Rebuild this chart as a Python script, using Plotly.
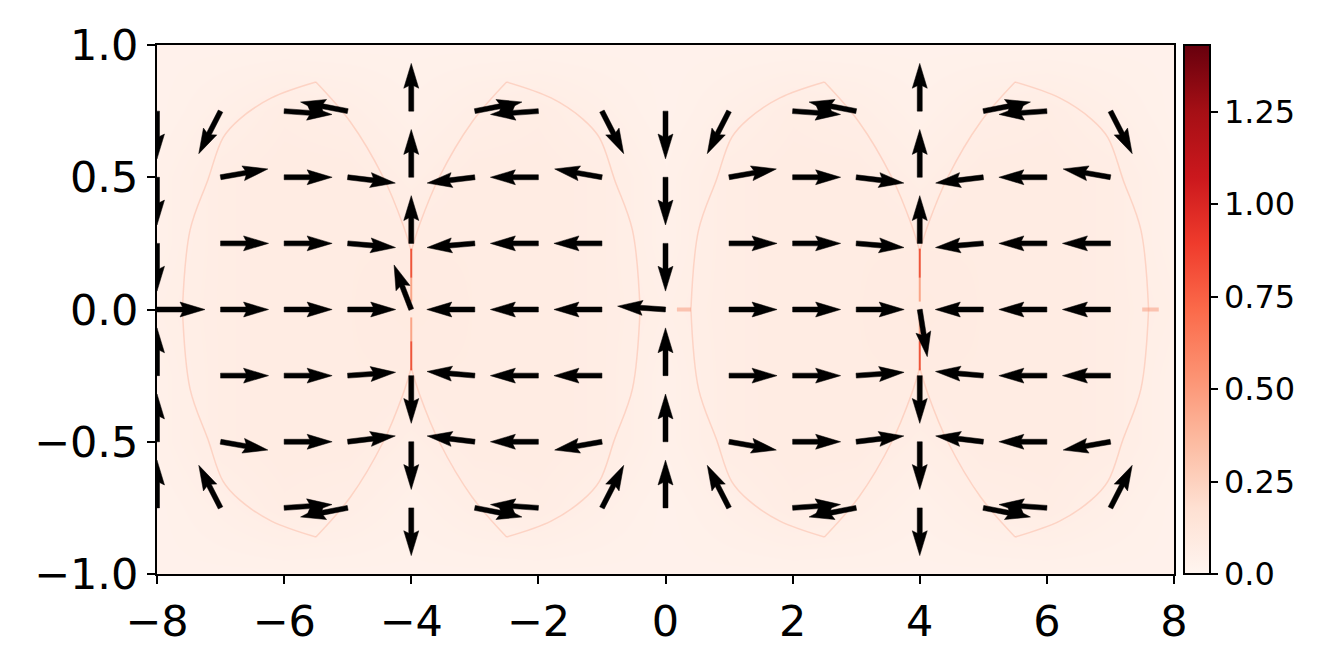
import numpy as np
import plotly.graph_objects as go

# ---- quiver grid (tails) ----
grid_x = list(range(-8, 8))
grid_y = [0.75, 0.5, 0.25, 0.0, -0.25, -0.5, -0.75]
# arrow direction in degrees (screen space, ccw from +x), one row per grid_y
angle_rows = [
    [-90, -117, -4, 169, 90, 11, 184, -63, -90, -117, -4, 169, 90, 11, 184, -63],
    [-90, 10, 0, -7, 90, 187, 180, 170, -90, 10, 0, -7, 90, 187, 180, 170],
    [-90, 0, 0, -5, 90, 185, 180, 180, -90, 0, 0, -5, 90, 185, 180, 180],
    [0, 0, 0, 0, 111, 180, 180, 180, 176, 0, 0, 0, -81, 180, 180, 180],
    [90, 0, 0, 4, -90, 175, 180, 180, 90, 0, 0, 4, -90, 175, 180, 180],
    [90, -10, 0, 7, -90, 173, 180, 190, 90, -10, 0, 7, -90, 173, 180, 190],
    [90, 117, 4, -169, -90, -11, 176, 63, 90, 117, 4, -169, -90, -11, 176, 63],
]

# ---- background magnitude field (coarse) ----
heat_x = list(range(-8, 9))
heat_y = [-1.0, -0.75, -0.5, -0.25, 0.0, 0.25, 0.5, 0.75, 1.0]
z_edge = [0.03] * 17
z_075 = [0.03, 0.05, 0.07, 0.06, 0.04, 0.06, 0.07, 0.05, 0.03, 0.05, 0.07, 0.06, 0.04, 0.06, 0.07, 0.05, 0.03]
z_050 = [0.04, 0.07, 0.08, 0.08, 0.06, 0.08, 0.08, 0.07, 0.04, 0.07, 0.08, 0.08, 0.06, 0.08, 0.08, 0.07, 0.04]
z_025 = [0.04, 0.07, 0.08, 0.08, 0.08, 0.08, 0.08, 0.07, 0.04, 0.07, 0.08, 0.08, 0.08, 0.08, 0.08, 0.07, 0.04]
z_000 = [0.05, 0.07, 0.08, 0.08, 0.09, 0.08, 0.08, 0.07, 0.05, 0.07, 0.08, 0.08, 0.09, 0.08, 0.08, 0.07, 0.05]
heat_z = [z_edge, z_075, z_050, z_025, z_000, z_025, z_050, z_075, z_edge]
z_max = 1.43

# caustic curves (offset from cell centre, upper-left quarter)
cell_centres = [-4, 4]
outer_dx = [-3.6, -3.48, -3.2, -2.96, -2.7, -2.2, -1.5]
outer_y = [0.0, 0.3, 0.49, 0.65, 0.72, 0.8, 0.86]
inner_dx = [-1.5, -0.96, -0.44, -0.13, 0.0]
inner_y = [0.86, 0.71, 0.5, 0.32, 0.22]
spike_y = [0.03, 0.12, 0.23]
spot_x = [[-8.0, -7.62], [0.18, 0.4], [7.5, 7.76]]

# figure sits 8px inside the page, so size/margins are set to put the
# plot box at x 157..1174, y 45..577 of the window
W, H = 1317, 650
ML, MR, MT, MB = 149, 151, 37, 81
sx = (W - ML - MR) / 16.0
sy = (H - MT - MB) / 2.0

fig = go.Figure()
fig.add_trace(go.Heatmap(
    x=heat_x, y=heat_y, z=heat_z, zmin=0, zmax=z_max, colorscale="Reds",
    zsmooth="best", hoverinfo="skip",
    colorbar=dict(
        x=1 + 10 / (W - ML - MR), xanchor="left", xpad=0, ypad=0,
        y=0.5, yanchor="middle", len=1, thickness=26,
        outlinewidth=2, outlinecolor="black",
        tickvals=[0, 0.25, 0.5, 0.75, 1.0, 1.25],
        ticktext=["0.0", "0.25", "0.50", "0.75", "1.00", "1.25"],
        ticks="outside", ticklen=7, tickwidth=2, tickcolor="black",
        tickfont=dict(family="DejaVu Sans", size=32, color="black"),
    ),
))

curve_col = "rgba(250,170,145,0.4)"
for c in cell_centres:
    for sgx in (-1, 1):
        for sgy in (-1, 1):
            fig.add_trace(go.Scatter(
                x=[c + sgx * d for d in outer_dx], y=[sgy * v for v in outer_y],
                mode="lines", line=dict(color=curve_col, width=1.5, shape="spline"),
                hoverinfo="skip", showlegend=False))
            fig.add_trace(go.Scatter(
                x=[c + sgx * d for d in inner_dx], y=[sgy * v for v in inner_y],
                mode="lines", line=dict(color=curve_col, width=1.5, shape="spline"),
                hoverinfo="skip", showlegend=False))
    for sgy in (-1, 1):
        fig.add_trace(go.Scatter(
            x=[c, c], y=[sgy * spike_y[0], sgy * spike_y[1]], mode="lines",
            line=dict(color="rgb(250,165,135)", width=2), hoverinfo="skip", showlegend=False))
        fig.add_trace(go.Scatter(
            x=[c, c], y=[sgy * spike_y[1], sgy * spike_y[2]], mode="lines",
            line=dict(color="rgb(238,85,58)", width=2), hoverinfo="skip", showlegend=False))
for sp in spot_x:
    fig.add_trace(go.Scatter(
        x=sp, y=[0, 0], mode="lines", line=dict(color="rgba(248,150,120,0.5)", width=4),
        hoverinfo="skip", showlegend=False))

# quiver arrows, matplotlib-like polygon (pixels): shaft width 5, head 15 x 25
arrow_px = [(0, -2.5), (25.5, -2.5), (23, -7.5), (48, 0), (23, 7.5), (25.5, 2.5), (0, 2.5)]
ax_pts, ay_pts = [], []
for yv, row in zip(grid_y, angle_rows):
    for xv, ang in zip(grid_x, row):
        t = np.radians(ang)
        ct, st = np.cos(t), np.sin(t)
        for px, py in arrow_px + [arrow_px[0]]:
            ax_pts.append(xv + (px * ct - py * st) / sx)
            ay_pts.append(yv + (px * st + py * ct) / sy)
        ax_pts.append(None)
        ay_pts.append(None)
fig.add_trace(go.Scatter(
    x=ax_pts, y=ay_pts, mode="lines", fill="toself", fillcolor="black",
    line=dict(color="black", width=0.5), hoverinfo="skip", showlegend=False))

axis_common = dict(
    showgrid=False, zeroline=False, showline=True, linecolor="black", linewidth=2,
    mirror=True, ticks="outside", ticklen=8, tickwidth=2, tickcolor="black",
    tickfont=dict(family="DejaVu Sans", size=43, color="black"),
)
fig.update_layout(
    width=W, height=H, margin=dict(l=ML, r=MR, t=MT, b=MB),
    plot_bgcolor="white", paper_bgcolor="white", showlegend=False,
    xaxis=dict(range=[-8, 8], tickvals=list(range(-8, 9, 2)),
               ticktext=["\u22128", "\u22126", "\u22124", "\u22122", "0", "2", "4", "6", "8"],
               **axis_common),
    yaxis=dict(range=[-1, 1], tickvals=[-1, -0.5, 0, 0.5, 1],
               ticktext=["\u22121.0", "\u22120.5", "0.0", "0.5", "1.0"],
               **axis_common),
)
fig.write_html("out.html")
